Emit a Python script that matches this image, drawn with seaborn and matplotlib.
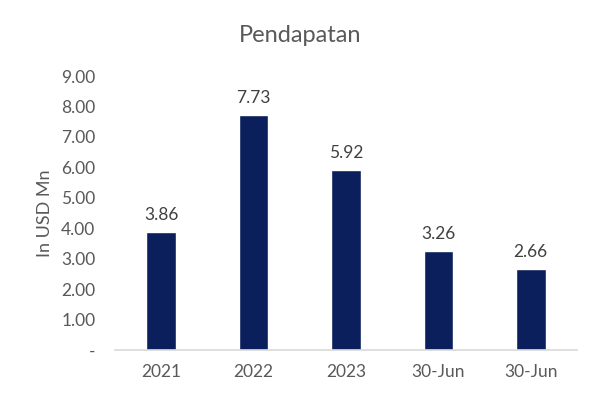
import matplotlib
matplotlib.use('Agg')
import matplotlib.pyplot as plt
import seaborn as sns
import pandas as pd

# data
kategori = ['2021', '2022', '2023', '30-Jun (a)', '30-Jun (b)']
label_x = ['2021', '2022', '2023', '30-Jun', '30-Jun']
pendapatan = [3.86, 7.73, 5.92, 3.26, 2.66]

df = pd.DataFrame({'kategori': kategori, 'nilai': pendapatan})

sns.set_style('white')
plt.rcParams['font.family'] = ['Lato', 'DejaVu Sans']

grey = '#595959'
navy = '#0B1F5C'

fig = plt.figure(figsize=(6.01, 3.99), dpi=100)
ax = fig.add_axes([0.191, 0.1228, 0.769, 0.6867])

sns.barplot(data=df, x='kategori', y='nilai', color=navy, width=0.32,
            saturation=1, ax=ax)

for i, v in enumerate(pendapatan):
    ax.text(i, v + 0.3, '%.2f' % v, ha='center', va='bottom',
            fontsize=12.5, color='#404040')

ax.set_ylim(0, 9)
ax.set_yticks(range(0, 10))
ax.set_yticklabels(['-'] + ['%.2f' % t for t in range(1, 10)])
ax.set_xticks(range(len(label_x)))
ax.set_xticklabels(label_x)
ax.tick_params(axis='both', length=0, labelsize=12.5, labelcolor=grey)
ax.tick_params(axis='y', pad=14)
ax.tick_params(axis='x', pad=10)

ax.set_xlabel('')
ax.set_ylabel('In USD Mn', fontsize=13, color=grey, labelpad=6)
# judul di tengah gambar
fig.text(0.5, 0.912, 'Pendapatan', ha='center', va='center',
         fontsize=17, color=grey)

for s in ['top', 'right', 'left']:
    ax.spines[s].set_visible(False)
ax.spines['bottom'].set_color('#D9D9D9')
ax.spines['bottom'].set_linewidth(1.2)

fig.savefig('out.png', dpi=100)
